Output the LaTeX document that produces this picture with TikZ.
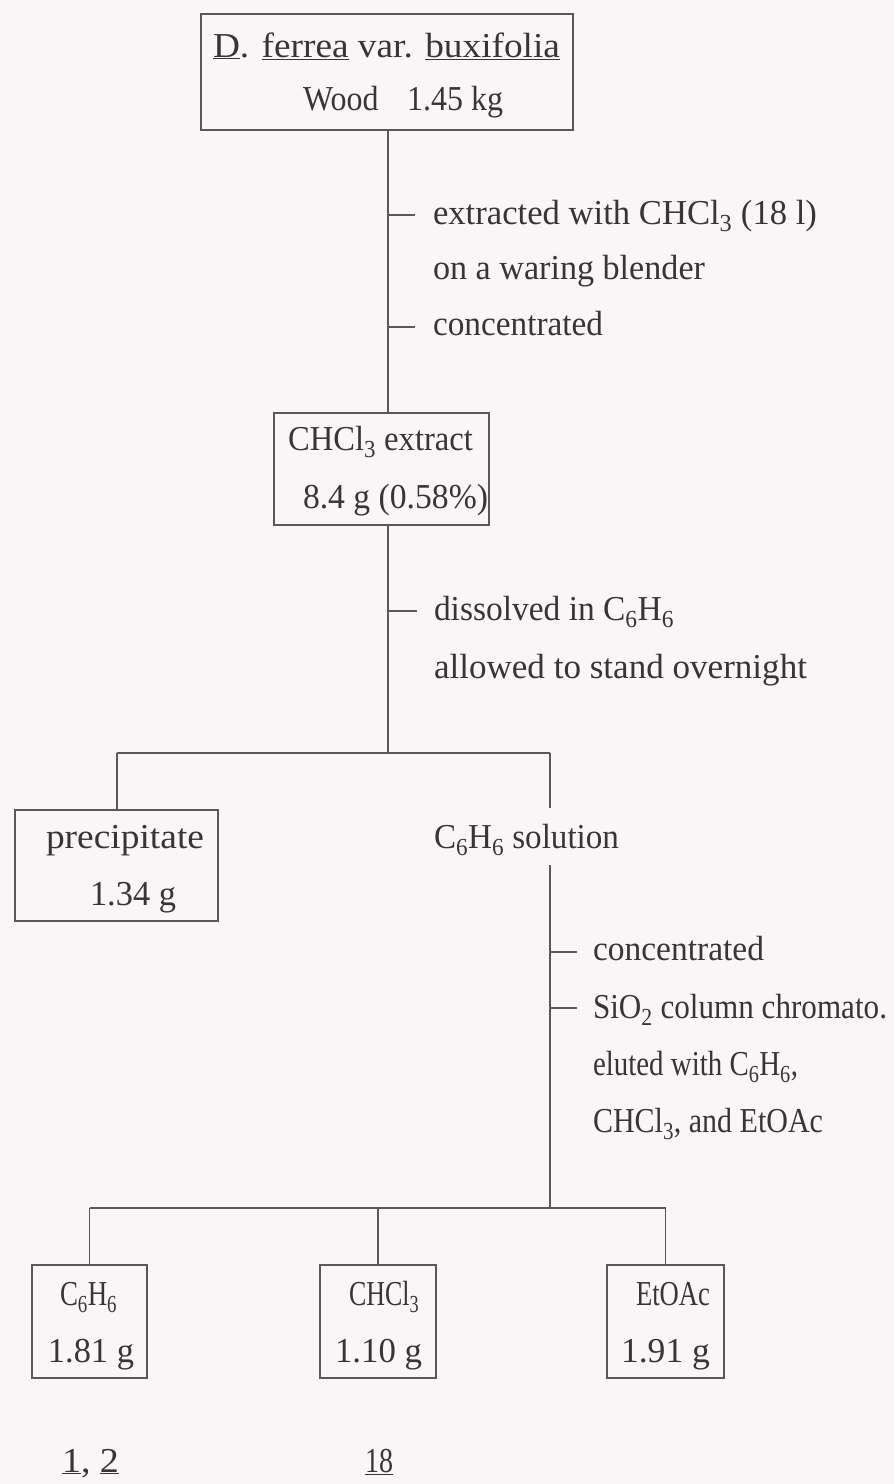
\documentclass[tikz,border=0pt]{standalone}
\usepackage{fontspec}
\usepackage{graphicx}
\setmainfont{Liberation Serif}
\definecolor{inkc}{RGB}{58,52,56}
\definecolor{linec}{RGB}{92,88,90}
\definecolor{paperc}{RGB}{248,246,247}
% squeeze or stretch a line to a given width, keeping its height
\newcommand\fitto[2]{\resizebox{#1}{\height}{#2}}
\begin{document}
\begin{tikzpicture}[x=1pt,y=-1pt,
  every node/.style={inner sep=0pt,outer sep=0pt},
  txt/.style={anchor=base west,font=\fontsize{35}{40}\selectfont,text=inkc},
  box/.style={draw=linec,line width=1.4pt,rectangle},
  link/.style={draw=linec,line width=1.4pt}]
\fill[paperc] (0,0) rectangle (894,1484);
\useasboundingbox (0,0) rectangle (894,1484);

% ---- boxes ----
\node[box,minimum width=372pt,minimum height=116pt] (top)  at (387,72) {};
\node[box,minimum width=215pt,minimum height=112pt] (ext)  at (381.5,469) {};
\node[box,minimum width=203pt,minimum height=111pt] (prec) at (116.5,865.5) {};
\node[box,minimum width=115pt,minimum height=113pt] (fa) at (89.5,1321.5) {};
\node[box,minimum width=116pt,minimum height=113pt] (fb) at (378,1321.5) {};
\node[box,minimum width=117pt,minimum height=113pt] (fc) at (665.5,1321.5) {};

% ---- box texts ----
\node[txt] (top1) at (213,57) {\fitto{347pt}{\underline{D}. \underline{ferrea} var. \underline{buxifolia}}};
\node[txt] (top2) at (303,110) {\fitto{200pt}{Wood\hspace{0.9em}1.45 kg}};
\node[txt] (ext1) at (288,450) {\fitto{185pt}{CHCl\textsubscript{3} extract}};
\node[txt] (ext2) at (303,508) {\fitto{185pt}{8.4 g (0.58\%)}};
\node[txt] (prec1) at (46,848) {\fitto{158pt}{precipitate}};
\node[txt] (prec2) at (90,905) {\fitto{86pt}{1.34 g}};
\node[txt] (fa1) at (60,1305) {\fitto{57pt}{C\textsubscript{6}H\textsubscript{6}}};
\node[txt] (fa2) at (48,1362) {\fitto{86pt}{1.81 g}};
\node[txt] (fb1) at (349,1305) {\fitto{70pt}{CHCl\textsubscript{3}}};
\node[txt] (fb2) at (335,1362) {\fitto{87pt}{1.10 g}};
\node[txt] (fc1) at (636,1305) {\fitto{74pt}{EtOAc}};
\node[txt] (fc2) at (621,1362) {\fitto{89pt}{1.91 g}};

% ---- compound numbers ----
\node[txt] (cmpa) at (62,1472) {\fitto{57pt}{\underline{1}, \underline{2}}};
\node[txt] (cmpb) at (365,1472) {\fitto{28pt}{\underline{18}}};

% ---- side notes ----
\node[txt] (n1) at (433,224) {\fitto{384pt}{extracted with CHCl\textsubscript{3} (18 l)}};
\node[txt] (n2) at (433,279) {\fitto{272pt}{on a waring blender}};
\node[txt] (n3) at (433,335) {\fitto{170pt}{concentrated}};
\node[txt] (n4) at (434,620) {\fitto{240pt}{dissolved in C\textsubscript{6}H\textsubscript{6}}};
\node[txt] (n5) at (434,678) {\fitto{373pt}{allowed to stand overnight}};
\node[txt] (sol) at (434,848) {\fitto{185pt}{C\textsubscript{6}H\textsubscript{6} solution}};
\node[txt] (n6) at (593,960) {\fitto{171pt}{concentrated}};
\node[txt] (n7) at (593,1018) {\fitto{294pt}{SiO\textsubscript{2} column chromato.}};
\node[txt] (n8) at (593,1075) {\fitto{205pt}{eluted with C\textsubscript{6}H\textsubscript{6},}};
\node[txt] (n9) at (593,1132) {\fitto{230pt}{CHCl\textsubscript{3}, and EtOAc}};

% ---- trunk lines and branch points ----
\coordinate (s1) at (388,0);
\coordinate (split1) at (388,753);
\coordinate (left1) at (117,753);
\coordinate (right1) at (550,753);
\coordinate (gapa) at (550,808);
\coordinate (gapb) at (550,865);
\coordinate (split2) at (550,1208);
\coordinate (la) at (89.5,1208);
\coordinate (lc) at (665.5,1208);
\coordinate (lb) at (378,1208);

\draw[link] (top.south -| s1) -- (ext.north -| s1);
\draw[link] (ext.south -| s1) -- (split1);
\draw[link] (left1) -- (right1);
\draw[link] (left1) -- (prec.north -| left1);
\draw[link] (right1) -- (gapa);
\draw[link] (gapb) -- (split2);
\draw[link] (la) -- (lc);
\draw[link] (la) -- (fa.north);
\draw[link] (lb) -- (fb.north);
\draw[link] (lc) -- (fc.north);

% ---- ticks beside the side notes ----
\coordinate (k1) at (388,215);
\coordinate (k2) at (388,327);
\coordinate (k3) at (388,611);
\coordinate (k4) at (550,952);
\coordinate (k5) at (550,1008);
\draw[link] (k1) -- ++(27,0);
\draw[link] (k2) -- ++(27,0);
\draw[link] (k3) -- ++(29,0);
\draw[link] (k4) -- ++(27,0);
\draw[link] (k5) -- ++(27,0);
\end{tikzpicture}
\end{document}
